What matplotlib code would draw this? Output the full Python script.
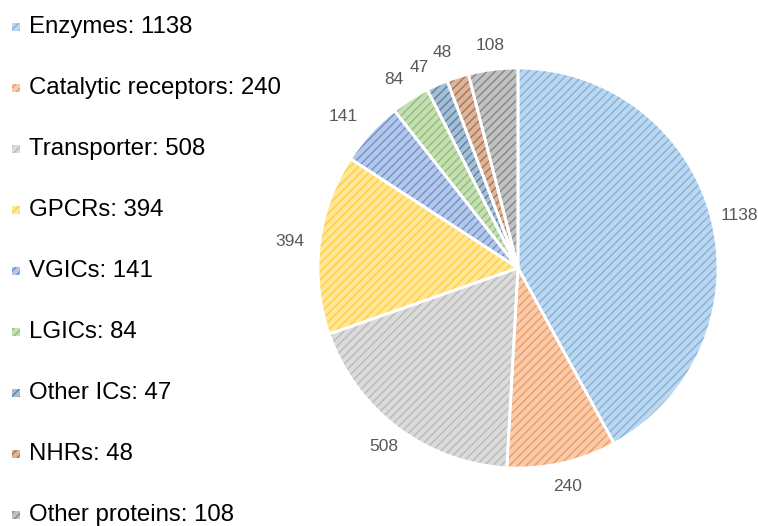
import numpy as np
import matplotlib
matplotlib.use("Agg")
import matplotlib.pyplot as plt
from matplotlib.colors import to_rgb
from matplotlib.patches import Rectangle

plt.rcParams['font.family'] = ['Liberation Sans', 'DejaVu Sans']
plt.rcParams['hatch.linewidth'] = 1.1

# target counts per protein family
categories = ['Enzymes', 'Catalytic receptors', 'Transporter', 'GPCRs', 'VGICs',
              'LGICs', 'Other ICs', 'NHRs', 'Other proteins']
counts = [1138, 240, 508, 394, 141, 84, 47, 48, 108]
colors = ['#5B9BD5', '#ED7D31', '#A5A5A5', '#FFC000', '#4472C4',
          '#70AD47', '#255E91', '#9E480E', '#636363']


def lighten(c, amt=0.55):
    r = np.array(to_rgb(c))
    return tuple(r + (1 - r) * amt)


W, H = 758, 526
fig = plt.figure(figsize=(W / 100, H / 100), dpi=100)

# pie area: centre (518, 268) px, radius 200 px
cx, cy, rad = 518, 268, 200
ax = fig.add_axes([(cx - rad) / W, (H - cy - rad) / H, 2 * rad / W, 2 * rad / H])

bg = [lighten(c, 0.6) for c in colors]
stripe = [lighten(c, 0.25) for c in colors]
wedges, texts = ax.pie(counts, colors=bg, startangle=90, counterclock=False,
                       labels=[str(v) for v in counts], labeldistance=1.12,
                       textprops=dict(fontsize=12.5, color='#595959'),
                       wedgeprops=dict(linewidth=0), radius=1.0)
for w, c in zip(wedges, stripe):
    w.set_hatch('////')
    w.set_edgecolor(c)

# white separators between slices
ax.pie(counts, colors=['none'] * len(counts), startangle=90, counterclock=False,
       wedgeprops=dict(linewidth=2, edgecolor='white'), radius=1.0)

ax.set_xlim(-1, 1)
ax.set_ylim(-1, 1)
ax.set_aspect('equal')
ax.axis('off')

for t in texts:
    t.set_horizontalalignment('center')
    t.set_verticalalignment('center')
    t.set_clip_on(False)

# nudge crowded labels at the top
def nudge(t, dx, dy):
    x, y = t.get_position()
    t.set_position((x + dx, y + dy))

nudge(texts[0], 0.02, -0.015)
nudge(texts[3], -0.03, 0.0)
nudge(texts[4], -0.05, 0.0)
nudge(texts[5], -0.02, 0.0)
nudge(texts[6], -0.04, -0.02)
nudge(texts[7], -0.04, 0.01)

# legend drawn by hand
y0, step = 27, 61.0
for i, (name, v) in enumerate(zip(categories, counts)):
    y = y0 + step * i
    sq = 8
    fig.patches.append(Rectangle((12 / W, (H - y - sq / 2) / H), sq / W, sq / H,
                                 transform=fig.transFigure, facecolor=bg[i],
                                 edgecolor=stripe[i], hatch='////', linewidth=0))
    fig.text(29 / W, (H - y) / H, f'{name}: {v}', fontsize=17.3, color='black',
             ha='left', va='center')

fig.savefig('out.png', dpi=100)
